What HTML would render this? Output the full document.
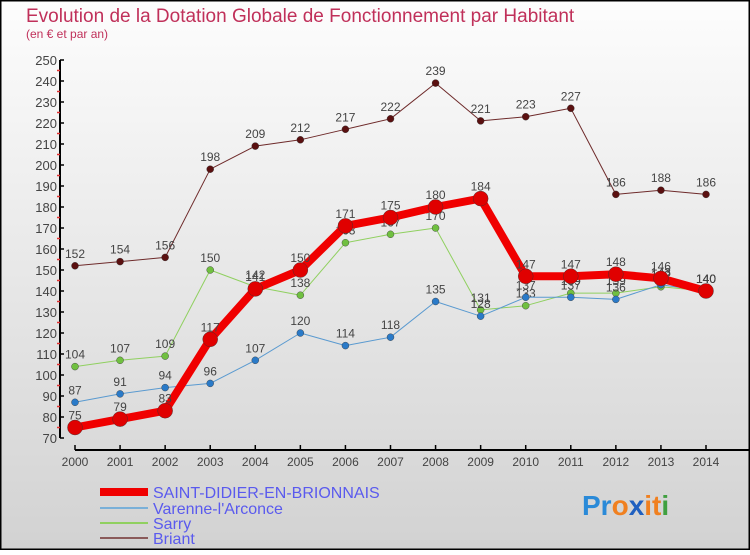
<!DOCTYPE html>
<html><head><meta charset="utf-8"><style>
html,body{margin:0;padding:0}
body{width:750px;height:550px;overflow:hidden;font-family:"Liberation Sans",sans-serif}
</style></head><body>
<svg id="chart" width="750" height="550" xmlns="http://www.w3.org/2000/svg">
<defs><linearGradient id="bg" x1="0" y1="0" x2="0" y2="1"><stop offset="0" stop-color="#fdfdfd"/><stop offset="1" stop-color="#d2d2d2"/></linearGradient></defs>
<rect x="0" y="0" width="750" height="550" fill="url(#bg)" stroke="#000" stroke-width="3"/>
<text x="26" y="22" font-size="19" fill="#c0305a">Evolution de la Dotation Globale de Fonctionnement par Habitant</text>
<text x="26" y="38" font-size="12" fill="#c0305a">(en € et par an)</text>
<g id="axes"></g>
<g id="series"></g>
<g id="legend"></g>
<g font-size="28" font-weight="bold" font-family="Liberation Sans,sans-serif">
<text x="582" y="515"><tspan fill="#2a8ad8">Pr</tspan><tspan fill="#f08020">o</tspan><tspan fill="#2060c0">x</tspan><tspan fill="#f08020">it</tspan><tspan fill="#40a040">i</tspan></text>
</g>
</svg>
<script>
const years=[2000,2001,2002,2003,2004,2005,2006,2007,2008,2009,2010,2011,2012,2013,2014];
const yTicks=[70,80,90,100,110,120,130,140,150,160,170,180,190,200,210,220,230,240,250];
const sdb=[75,79,83,117,141,150,171,175,180,184,147,147,148,146,140];
const varenne=[87,91,94,96,107,120,114,118,135,128,137,137,136,143,140];
const sarry=[104,107,109,150,142,138,163,167,170,131,133,139,139,142,140];
const briant=[152,154,156,198,209,212,217,222,239,221,223,227,186,188,186];
const seriesNames=["SAINT-DIDIER-EN-BRIONNAIS","Varenne-l'Arconce","Sarry","Briant"];
const NS="http://www.w3.org/2000/svg";
const x=i=>75+i*(706-75)/14;
const y=v=>438-(v-70)*378/180;
function mk(tag,attrs,parent){const e=document.createElementNS(NS,tag);for(const k in attrs)e.setAttribute(k,attrs[k]);parent.appendChild(e);return e;}
const axes=document.getElementById('axes');
const ya=mk('line',{x1:60,y1:y(250),x2:60,y2:y(70),stroke:'#000','stroke-width':2},axes);


yTicks.forEach((v,i)=>{
 mk('line',{x1:60,x2:64,y1:y(v),y2:y(v),stroke:'#000','stroke-width':1.5},axes);
 if(i<yTicks.length-1) mk('line',{x1:57,x2:60,y1:y(v+5),y2:y(v+5),stroke:'#e03030','stroke-width':1.5},axes);
 const t=mk('text',{x:57,y:y(v)+5,'text-anchor':'end','font-size':13,fill:'#444'},axes);
 
 
 t.textContent=v;
});
const xa=mk('line',{x1:75,y1:450,x2:750,y2:450,stroke:'#000','stroke-width':2},axes);


years.forEach((yr,i)=>{
 mk('line',{x1:x(i),x2:x(i),y1:445,y2:450,stroke:'#000','stroke-width':1.5},axes);
 const t=mk('text',{x:x(i),y:466,'text-anchor':'middle','font-size':12,fill:'#444'},axes);
 
 
 t.textContent=yr;
});
const sg=document.getElementById('series');
const defs=[[briant,'#6e2a2a','#5a1010',1,3.5],[sarry,'#90d060','#70c040',1,3.5],[varenne,'#5a9ad0','#2a7ac8',1,3.5],[sdb,'#f00000','#e00000',8,7.5]];
const names=['series-briant','series-sarry','series-varenne','series-saint-didier'];
defs.forEach((d,k)=>{
 const g=mk('g',{},sg);
 
 
 const pts=d[0].map((v,i)=>x(i)+','+y(v)).join(' ');
 const pl=mk('polyline',{points:pts,fill:'none',stroke:d[1],'stroke-width':d[3],'stroke-linejoin':'round'},g);
 
 
 d[0].forEach((v,i)=>{
  const c=mk('circle',{cx:x(i),cy:y(v),r:d[4],fill:d[2],stroke:'#333','stroke-width':0.4},g);
  
  
  const t=mk('text',{x:x(i),y:y(v)-8,'text-anchor':'middle','font-size':12,fill:'#444'},g);
  
  
  t.textContent=v;
 });
});
const lg=document.getElementById('legend');
const lc=[['#f00000',8],['#7ab0d8',2],['#90d060',2],['#8a5a5a',2]];
const ly=[492,508,523,538];
seriesNames.forEach((n,k)=>{
 const g=mk('g',{},lg);
 
 
 mk('line',{x1:100,x2:148,y1:ly[k],y2:ly[k],stroke:lc[k][0],'stroke-width':lc[k][1]},g);
 const t=mk('text',{x:153,y:ly[k]+6,'font-size':16,fill:'#5a5aee'},g);
 t.textContent=n;
});
</script>
</body></html>
